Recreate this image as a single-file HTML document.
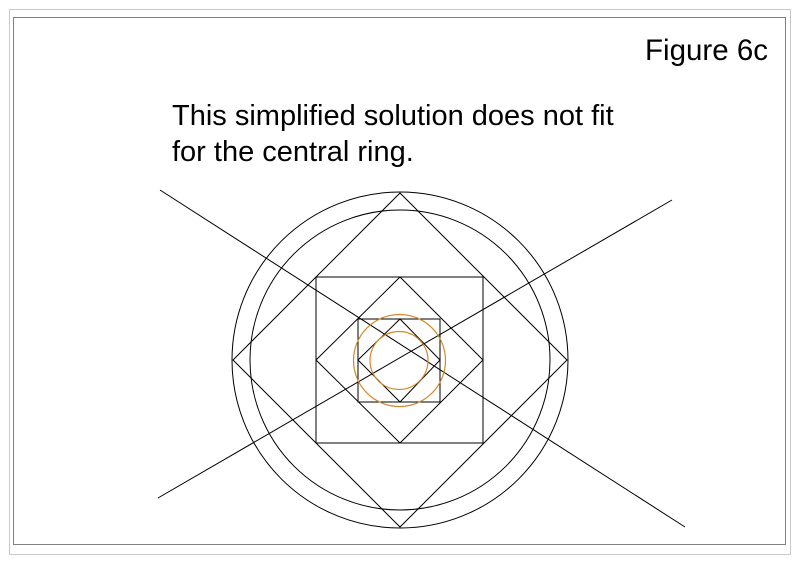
<!DOCTYPE html>
<html><head><style>
body{margin:0;background:#fff;}
.wrap{position:relative;width:800px;height:565px;overflow:hidden;font-family:"Liberation Sans",sans-serif;}
</style></head><body><div class="wrap">
<svg width="800" height="565" viewBox="0 0 800 565" style="position:absolute;left:0;top:0">
<rect x="9.5" y="9.5" width="781" height="545" fill="none" stroke="#c8c8c8" stroke-width="1"/>
<rect x="13.5" y="17.5" width="772" height="527" fill="none" stroke="#808080" stroke-width="1"/>
<g fill="none" stroke="#000" stroke-width="1">
<circle cx="400" cy="360" r="168"/>
<circle cx="400" cy="360" r="150"/>
<polygon points="400,193 567,360 400,527 233,360"/>
<rect x="316" y="277" width="167" height="166"/>
<polygon points="400,277 483,360 400,443 316,360"/>
<rect x="358" y="319" width="82" height="83"/>
<polygon points="400,319 440,360 400,402 358,360"/>
<line x1="160" y1="190" x2="685" y2="527"/>
<line x1="158" y1="498" x2="672" y2="200"/>
</g>
<g fill="none" stroke="#d08a2a" stroke-width="1.2">
<circle cx="399.5" cy="360.5" r="46"/>
<circle cx="399" cy="360.5" r="29"/>
</g>
<text x="768" y="60" font-size="29.5" text-anchor="end" font-family="Liberation Sans, sans-serif">Figure 6c</text>
<text x="172" y="125" font-size="29" font-family="Liberation Sans, sans-serif">This simplified solution does not fit</text>
<text x="172" y="161" font-size="29" font-family="Liberation Sans, sans-serif">for the central ring.</text>
</svg>
</div></body></html>
